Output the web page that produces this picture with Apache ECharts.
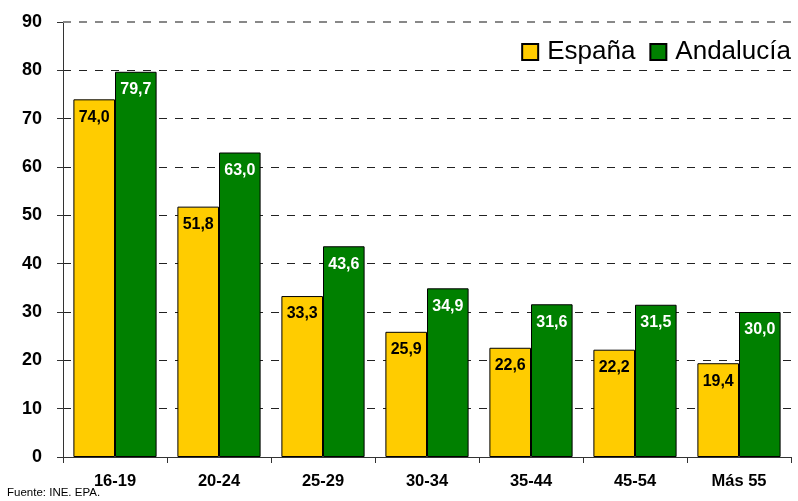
<!DOCTYPE html>
<html>
<head>
<meta charset="utf-8">
<script src="https://cdn.jsdelivr.net/npm/echarts@6/dist/echarts.min.js"></script>
<style>
body{margin:0;background:#fff;}
#chart{width:798px;height:501px;}
</style>
</head>
<body>
<div id="chart"></div>
<script>

const categories=["16-19","20-24","25-29","30-34","35-44","45-54","Más 55"]
const espana=[74.0,51.8,33.3,25.9,22.6,22.2,19.4]
const andalucia=[79.7,63.0,43.6,34.9,31.6,31.5,30.0]

const chart=echarts.init(document.getElementById("chart"))

const fmt=p=>p.value.toFixed(1).replace(".",",")

chart.setOption({
animation:false,
textStyle:{fontFamily:"Liberation Sans, Arial, sans-serif"},
grid:{left:63,right:7,top:22,bottom:44},
legend:{
right:2,top:34,
itemWidth:16,itemHeight:16,itemGap:14,
icon:"rect",
textStyle:{fontSize:26,color:"#000",padding:[0,0,0,4]},
data:["España","Andalucía"]
},
xAxis:{
type:"category",
data:categories,
axisLine:{lineStyle:{color:"#333",width:1}},
axisTick:{show:true,length:6,lineStyle:{color:"#333"}},
axisLabel:{fontSize:16.5,fontWeight:"bold",color:"#000",margin:16}
},
yAxis:{
type:"value",
min:0,max:90,interval:10,
axisLine:{show:true,lineStyle:{color:"#333",width:1}},
axisTick:{show:true,length:6,lineStyle:{color:"#333"}},
axisLabel:{fontSize:18,fontWeight:"bold",color:"#000",margin:21},
splitLine:{show:true,showMaxLine:false,lineStyle:{color:"#222",type:[8,8],width:1}}
},
series:[
{
name:"España",
type:"bar",
data:espana,
barWidth:"40%",
barGap:"0%",
itemStyle:{color:"#FFCC00",borderColor:"#000",borderWidth:1},
label:{show:true,position:"insideTop",distance:10,formatter:fmt,
fontSize:16,fontWeight:"bold",color:"#000"},
markLine:{silent:true,symbol:"none",label:{show:false},
lineStyle:{color:"#888",type:[8,8],width:2},
data:[{yAxis:90}]}
},
{
name:"Andalucía",
type:"bar",
data:andalucia,
barWidth:"40%",
itemStyle:{color:"#008000",borderColor:"#000",borderWidth:1},
label:{show:true,position:"insideTop",distance:10,formatter:fmt,
fontSize:16,fontWeight:"bold",color:"#fff"}
}
],
graphic:[{
type:"text",left:7,top:487,
style:{text:"Fuente: INE. EPA.",fontSize:11.5,fill:"#000",
fontFamily:"Liberation Sans Narrow, Liberation Sans, Arial, sans-serif"}
}]
})

</script>
</body>
</html>
